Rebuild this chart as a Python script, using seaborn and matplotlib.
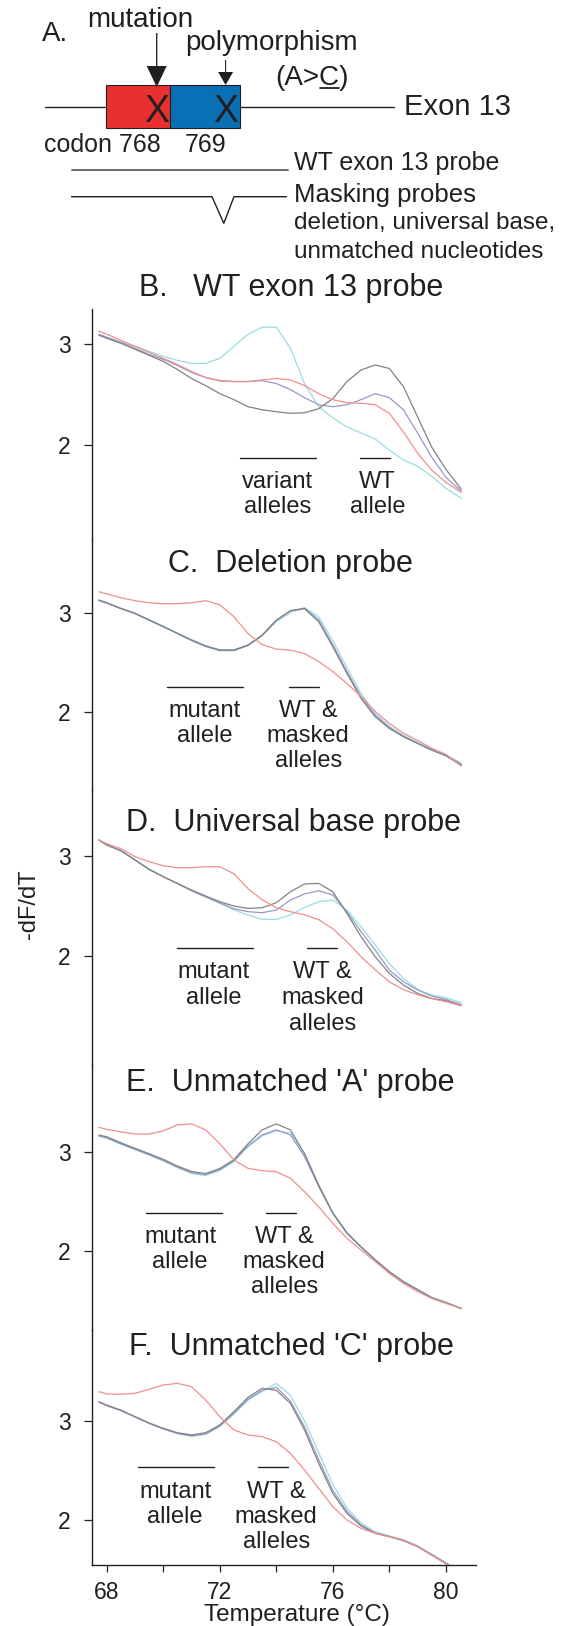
import numpy as np
import pandas as pd
import matplotlib
matplotlib.use("Agg")
import matplotlib.pyplot as plt
import seaborn as sns
from matplotlib.patches import Rectangle

# ---------------- data ----------------
temperature = [67.72, 68.0, 68.5, 69.0, 69.5, 70.0, 70.5, 71.0, 71.5, 72.0, 72.5, 73.0, 73.5, 74.0,
               74.5, 75.0, 75.5, 76.0, 76.5, 77.0, 77.5, 78.0, 78.5, 79.0, 79.5, 80.0, 80.55]

# B. WT exon 13 probe
B_red = [3.13, 3.10, 3.04, 2.98, 2.92, 2.86, 2.80, 2.73, 2.67, 2.64, 2.63, 2.63, 2.646, 2.66, 2.646, 2.59,
         2.51, 2.45, 2.42, 2.414, 2.40, 2.315, 2.13, 1.92, 1.75, 1.63, 1.53]
B_gray = [3.09, 3.06, 3.01, 2.95, 2.89, 2.83, 2.75, 2.66, 2.59, 2.51, 2.45, 2.38, 2.35, 2.33, 2.315, 2.32,
          2.36, 2.46, 2.63, 2.745, 2.795, 2.76, 2.58, 2.28, 1.98, 1.76, 1.56]
B_purple = [3.10, 3.07, 3.02, 2.96, 2.90, 2.85, 2.79, 2.72, 2.67, 2.636, 2.63, 2.63, 2.64, 2.61, 2.55, 2.47,
            2.40, 2.38, 2.40, 2.45, 2.51, 2.47, 2.35, 2.12, 1.88, 1.68, 1.54]
B_cyan = [3.09, 3.07, 3.02, 2.98, 2.93, 2.88, 2.84, 2.81, 2.81, 2.86, 2.98, 3.10, 3.17, 3.17, 2.96, 2.61,
          2.38, 2.27, 2.18, 2.12, 2.06, 1.95, 1.85, 1.79, 1.69, 1.57, 1.47]

# C. Deletion probe
C_red = [3.21, 3.19, 3.15, 3.12, 3.10, 3.09, 3.09, 3.10, 3.12, 3.08, 2.96, 2.79, 2.68, 2.635, 2.625, 2.59,
         2.51, 2.41, 2.29, 2.16, 2.01, 1.89, 1.79, 1.72, 1.64, 1.58, 1.46]
C_gray = [3.127, 3.10, 3.043, 2.993, 2.926, 2.86, 2.793, 2.726, 2.666, 2.625, 2.625, 2.676, 2.776, 2.926,
          3.02, 3.04, 2.91, 2.659, 2.391, 2.14, 1.957, 1.839, 1.756, 1.689, 1.622, 1.565, 1.47]
C_purple = [3.12, 3.095, 3.04, 2.99, 2.925, 2.86, 2.79, 2.72, 2.66, 2.62, 2.62, 2.67, 2.77, 2.92, 3.02,
            3.045, 2.93, 2.68, 2.41, 2.16, 1.97, 1.85, 1.76, 1.69, 1.625, 1.57, 1.48]
C_cyan = [3.13, 3.10, 3.045, 2.995, 2.93, 2.865, 2.795, 2.73, 2.67, 2.63, 2.63, 2.675, 2.77, 2.91, 3.00,
          3.05, 2.96, 2.72, 2.45, 2.19, 1.99, 1.86, 1.77, 1.70, 1.63, 1.575, 1.49]

# D. Universal base probe
D_red = [3.157, 3.12, 3.07, 2.99, 2.94, 2.90, 2.88, 2.88, 2.89, 2.89, 2.82, 2.67, 2.56, 2.48, 2.44, 2.41,
         2.36, 2.27, 2.14, 1.99, 1.86, 1.74, 1.66, 1.61, 1.57, 1.54, 1.50]
D_gray = [3.157, 3.107, 3.05, 2.957, 2.863, 2.79, 2.723, 2.657, 2.597, 2.54, 2.497, 2.473, 2.48, 2.53, 2.64,
          2.717, 2.723, 2.64, 2.423, 2.19, 1.99, 1.823, 1.707, 1.623, 1.573, 1.55, 1.50]
D_purple = [3.157, 3.107, 3.05, 2.957, 2.863, 2.79, 2.72, 2.65, 2.59, 2.53, 2.47, 2.44, 2.43, 2.457, 2.557,
            2.617, 2.65, 2.607, 2.44, 2.24, 2.057, 1.857, 1.74, 1.657, 1.597, 1.563, 1.51]
D_cyan = [3.157, 3.107, 3.05, 2.957, 2.863, 2.79, 2.72, 2.65, 2.585, 2.523, 2.457, 2.407, 2.363, 2.363,
          2.407, 2.483, 2.54, 2.557, 2.457, 2.29, 2.107, 1.923, 1.773, 1.663, 1.607, 1.58, 1.53]

# E. Unmatched 'A' probe
E_red = [3.245, 3.225, 3.20, 3.178, 3.178, 3.21, 3.27, 3.28, 3.22, 3.08, 2.916, 2.832, 2.809, 2.799, 2.732,
         2.597, 2.446, 2.279, 2.128, 2.01, 1.893, 1.775, 1.674, 1.591, 1.523, 1.473, 1.42]
E_gray = [3.168, 3.15, 3.09, 3.034, 2.98, 2.923, 2.856, 2.80, 2.78, 2.83, 2.92, 3.08, 3.22, 3.28, 3.22,
          2.98, 2.66, 2.38, 2.18, 2.04, 1.91, 1.79, 1.69, 1.61, 1.53, 1.48, 1.42]
E_purple = [3.16, 3.14, 3.08, 3.025, 2.97, 2.913, 2.846, 2.79, 2.77, 2.82, 2.91, 3.06, 3.17, 3.22, 3.17,
            2.95, 2.65, 2.38, 2.18, 2.04, 1.91, 1.79, 1.69, 1.61, 1.53, 1.48, 1.42]
E_cyan = [3.155, 3.135, 3.075, 3.02, 2.965, 2.905, 2.84, 2.78, 2.76, 2.81, 2.90, 3.05, 3.16, 3.21, 3.19,
          2.98, 2.67, 2.39, 2.19, 2.045, 1.915, 1.795, 1.695, 1.615, 1.535, 1.485, 1.425]

# F. Unmatched 'C' probe
F_red = [3.296, 3.273, 3.27, 3.279, 3.32, 3.364, 3.38, 3.347, 3.212, 3.044, 2.909, 2.859, 2.842, 2.791,
         2.673, 2.505, 2.32, 2.135, 2.0, 1.916, 1.865, 1.832, 1.798, 1.731, 1.646, 1.56, 1.44]
F_gray = [3.195, 3.16, 3.11, 3.044, 2.98, 2.926, 2.882, 2.859, 2.882, 2.96, 3.094, 3.239, 3.33, 3.31,
          3.178, 2.909, 2.572, 2.269, 2.067, 1.94, 1.865, 1.832, 1.791, 1.731, 1.646, 1.56, 1.44]
F_purple = [3.19, 3.155, 3.105, 3.04, 2.975, 2.92, 2.875, 2.85, 2.87, 2.95, 3.08, 3.22, 3.31, 3.34, 3.20,
            2.94, 2.61, 2.30, 2.09, 1.95, 1.87, 1.835, 1.795, 1.735, 1.65, 1.565, 1.45]
F_cyan = [3.19, 3.155, 3.105, 3.04, 2.975, 2.92, 2.872, 2.845, 2.865, 2.945, 3.07, 3.21, 3.30, 3.38, 3.26,
          3.00, 2.68, 2.36, 2.12, 1.97, 1.88, 1.84, 1.80, 1.74, 1.655, 1.57, 1.46]

panel_titles = ["B.   WT exon 13 probe", "C.  Deletion probe", "D.  Universal base probe",
                "E.  Unmatched 'A' probe", "F.  Unmatched 'C' probe"]
panel_series = [
    (B_cyan, B_purple, B_gray, B_red),
    (C_cyan, C_purple, C_gray, C_red),
    (D_cyan, D_purple, D_gray, D_red),
    (E_cyan, E_purple, E_gray, E_red),
    (F_cyan, F_purple, F_gray, F_red),
]
series_names = ["cyan", "purple", "gray", "red"]
y_ticks = [2, 3]
x_major = [68, 72, 76, 80]
x_minor = [70, 74, 78]

left_labels = [["variant", "alleles"], ["mutant", "allele"], ["mutant", "allele"],
               ["mutant", "allele"], ["mutant", "allele"]]
right_labels = [["WT", "allele"], ["WT &", "masked", "alleles"], ["WT &", "masked", "alleles"],
                ["WT &", "masked", "alleles"], ["WT &", "masked", "alleles"]]
left_bars = [(72.71, 75.41), (70.13, 72.83), (70.47, 73.18), (69.38, 72.07), (69.09, 71.79)]
right_bars = [(76.98, 78.01), (74.45, 75.52), (75.09, 76.15), (73.63, 74.69), (73.34, 74.41)]
left_text_x = [74.05, 71.45, 71.78, 70.6, 70.42]
right_text_x = [77.58, 75.13, 75.63, 74.28, 74.0]

# ---------------- layout (pixels of the 566 x 1626 canvas, origin top-left) ----------------
W, H = 566, 1626
T_LEFT, T_RIGHT = 67.47, 81.08
PX68, PX_PER_DEG = 106.8, 28.25
X0 = PX68 + (T_LEFT - 68) * PX_PER_DEG
X1 = PX68 + (T_RIGHT - 68) * PX_PER_DEG
panel_box = [(309, 540, 344.3, 100.7), (540, 790, 612.7, 99.7), (790, 1065, 855.7, 100.0),
             (1065, 1330, 1151.7, 99.3), (1330, 1565, 1421.0, 99.0)]
title_pos = [(291, 296.0), (290, 571.7), (293, 830.7), (290, 1091.0), (291, 1355.0)]
bar_y = [458.3, 686.7, 948.3, 1213.3, 1467.3]
line_y = [[488, 513, 538], [716.7, 741.7, 766.7], [978.3, 1004, 1030], [1242.7, 1267.5, 1293.3],
          [1497.7, 1522.7, 1548.3]]

INK = "#231f20"
palette = {"cyan": "#98dde5", "purple": "#9898c8", "gray": "#828282", "red": "#f28e8e"}

sns.set_theme(style="ticks")
plt.rcParams["font.family"] = ["Liberation Sans", "DejaVu Sans"]
plt.rcParams["text.color"] = INK
plt.rcParams["axes.edgecolor"] = INK
plt.rcParams["xtick.color"] = INK
plt.rcParams["ytick.color"] = INK
plt.rcParams["axes.labelcolor"] = INK

fig = plt.figure(figsize=(W / 100, H / 100), dpi=100)
fig.patch.set_facecolor("white")

cv = fig.add_axes([0, 0, 1, 1])
cv.set_xlim(0, W)
cv.set_ylim(H, 0)
cv.axis("off")


def px_text(x, y, s, size, **kw):
    return cv.text(x, y, s, fontsize=size, va=kw.pop("va", "baseline"), color=INK, **kw)


# ---------------- panel A schematic ----------------
px_text(41.7, 40.7, "A.", 20)
px_text(140, 27, "mutation", 20, ha="center")
px_text(272, 50, "polymorphism", 20, ha="center")

cv.plot([44.6, 394], [106.7, 106.7], color=INK, lw=1.0, zorder=1)
cv.add_patch(Rectangle((106, 85), 64, 43.3, fc="#e8312f", ec=INK, lw=0.8, zorder=2))
cv.add_patch(Rectangle((170, 85), 69.5, 43.3, fc="#0a70b6", ec=INK, lw=0.8, zorder=2))
px_text(156.7, 121.7, "X", 27, ha="center", zorder=3)
px_text(225.6, 121.7, "X", 27, ha="center", zorder=3)
cv.arrow(156.7, 33, 0, 54, width=1.3, head_width=20, head_length=21, length_includes_head=True,
         fc=INK, ec=INK, lw=0, zorder=4)
cv.arrow(225.6, 60, 0, 25, width=1.1, head_width=15, head_length=13, length_includes_head=True,
         fc=INK, ec=INK, lw=0, zorder=4)

fig.canvas.draw()
rend = fig.canvas.get_renderer()


def text_w(s, size):
    t = cv.text(0, 0, s, fontsize=size)
    w = t.get_window_extent(rend).width
    t.remove()
    return w


ac_size = 20
w_all = text_w("(A>C)", ac_size)
ac_left = 312 - w_all / 2
px_text(ac_left, 85, "(A>C)", ac_size)
w1, w2 = text_w("(A>", ac_size), text_w("(A>C", ac_size)
cv.plot([ac_left + w1 + 0.5, ac_left + w2 - 0.5], [87.8, 87.8], color=INK, lw=1.3)

px_text(404, 115, "Exon 13", 21)
px_text(43.5, 151.7, "codon 768", 18)
px_text(185, 151.7, "769", 18)

cv.plot([71.5, 287.6], [170, 170], color="#6d6d6d", lw=1.4)
px_text(293.8, 170, "WT exon 13 probe", 18)
cv.plot([71.5, 212, 223.8, 234, 286.5], [196.7, 196.7, 223.3, 196.7, 196.7], color=INK, lw=1.0)
px_text(293.8, 201.7, "Masking probes", 18.5)
px_text(293.8, 229, "deletion, universal base,", 17.5)
px_text(293.8, 258, "unmatched nucleotides", 17.5)

px_text(29, 904, "-dF/dT", 17, ha="center", va="center", rotation=90)

# ---------------- melting-curve panels ----------------
for i, (top, bot, p3, unit) in enumerate(panel_box):
    ax = fig.add_axes([X0 / W, 1 - bot / H, (X1 - X0) / W, (bot - top) / H])
    ax.patch.set_alpha(0)
    df = pd.DataFrame({
        "Temperature": np.tile(temperature, len(series_names)),
        "dFdT": np.concatenate(panel_series[i]),
        "sample": np.repeat(series_names, len(temperature)),
    })
    sns.lineplot(data=df, x="Temperature", y="dFdT", hue="sample", hue_order=series_names,
                 palette=palette, estimator=None, sort=False, legend=False, linewidth=0.9, ax=ax)
    ax.set_xlim(T_LEFT, T_RIGHT)
    ax.set_ylim(3 - (bot - p3) / unit, 3 + (p3 - top) / unit)
    ax.set_xlabel("")
    ax.set_ylabel("")
    for s in ["top", "right"]:
        ax.spines[s].set_visible(False)
    ax.spines["left"].set_linewidth(1.0)
    ax.set_yticks(y_ticks)
    ax.set_yticklabels([str(v) for v in y_ticks])
    ax.tick_params(axis="y", length=5.5, width=0.9, pad=9.5, labelsize=16.5)
    if i < len(panel_box) - 1:
        ax.spines["bottom"].set_visible(False)
        ax.set_xticks([])
    else:
        ax.spines["bottom"].set_linewidth(1.0)
        ax.set_xticks(x_major)
        ax.set_xticks(x_minor, minor=True)
        ax.set_xticklabels([str(v) for v in x_major])
        ax.tick_params(axis="x", which="both", length=5.3, width=0.9, pad=6.0, labelsize=16.5)
        ax.set_xlabel("Temperature (°C)", fontsize=17.5)
        ax.xaxis.set_label_coords((297 - X0) / (X1 - X0), -(1604 - bot) / (bot - top))

    to_val = lambda ypx: 3 - (ypx - p3) / unit
    by = to_val(bar_y[i])
    ax.plot(list(left_bars[i]), [by, by], color=INK, lw=1.0, clip_on=False)
    ax.plot(list(right_bars[i]), [by, by], color=INK, lw=1.0, clip_on=False)
    for k, line in enumerate(left_labels[i]):
        ax.text(left_text_x[i], to_val(line_y[i][k]), line, ha="center", va="baseline",
                fontsize=17, color=INK, clip_on=False)
    for k, line in enumerate(right_labels[i]):
        ax.text(right_text_x[i], to_val(line_y[i][k]), line, ha="center", va="baseline",
                fontsize=17, color=INK, clip_on=False)

    tx, ty = title_pos[i]
    px_text(tx, ty, panel_titles[i], 22, ha="center")

fig.savefig("out.png", dpi=100, facecolor="white")
